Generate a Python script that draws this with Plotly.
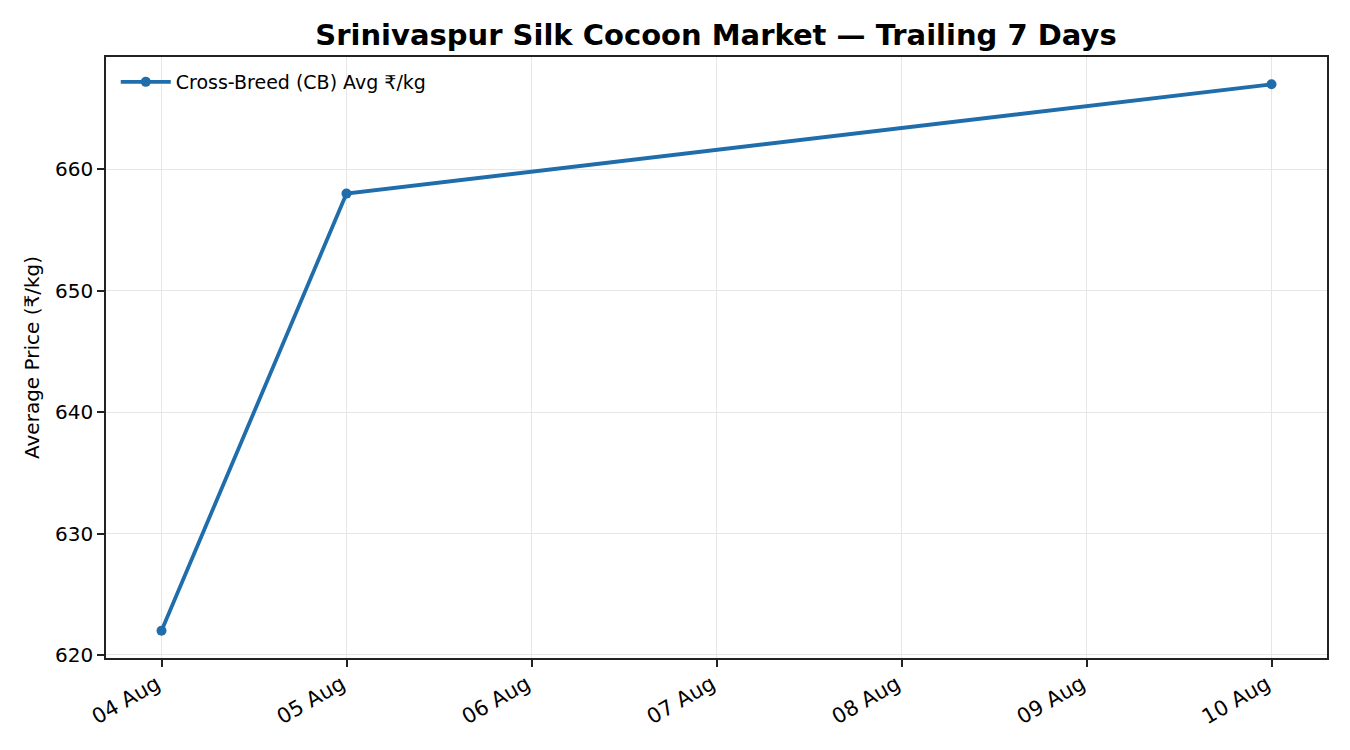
import plotly.graph_objects as go

# trailing 7 days, CB average price
dates = ["2025-08-04", "2025-08-05", "2025-08-10"]
avg_price = [622, 658, 667]
series_name = "Cross-Breed (CB) Avg ₹/kg"
y_ticks = [620, 630, 640, 650, 660]

line_color = "#1f6dab"
axis_color = "#222222"

# page has an 8px body margin, so the figure is sized a bit smaller
W, H = 1342, 742

fig = go.Figure()
fig.add_trace(go.Scatter(
    x=dates,
    y=avg_price,
    name=series_name,
    mode="lines+markers",
    line=dict(color=line_color, width=3.8),
    marker=dict(color=line_color, size=10),
))

fig.update_layout(
    width=W,
    height=H,
    paper_bgcolor="white",
    plot_bgcolor="white",
    font=dict(family="DejaVu Sans", size=20, color="black"),
    margin=dict(l=98, r=23, t=49, b=92),
    title=dict(
        text="<b>Srinivaspur Silk Cocoon Market — Trailing 7 Days</b>",
        x=708 / W, xanchor="center",
        y=1 - 27 / H, yanchor="middle",
        font=dict(size=29, color="black"),
    ),
    showlegend=True,
    legend=dict(
        x=0.008, y=0.99, xanchor="left", yanchor="top",
        bgcolor="rgba(0,0,0,0)", borderwidth=0,
        itemwidth=50,
        font=dict(size=19),
    ),
)

fig.update_xaxes(
    type="date",
    range=["2025-08-03 16:48", "2025-08-10 07:12"],
    dtick=86400000,
    tick0="2025-08-04",
    tickformat="%d %b",
    tickangle=-30,
    tickfont=dict(size=21),
    ticklabelstandoff=-3,
    ticklabelshift=-5,
    ticks="outside", ticklen=7, tickwidth=1.5, tickcolor=axis_color,
    showline=True, linecolor=axis_color, linewidth=1.5, mirror=True,
    showgrid=True, gridcolor="#e6e6e6", gridwidth=1,
    zeroline=False,
)
fig.update_yaxes(
    range=[619.75, 669.25],
    tickvals=y_ticks,
    ticks="outside", ticklen=7, tickwidth=1.5, tickcolor=axis_color,
    showline=True, linecolor=axis_color, linewidth=1.5, mirror=True,
    showgrid=True, gridcolor="#e6e6e6", gridwidth=1,
    zeroline=False,
    title=dict(text="Average Price (₹/kg)", standoff=10, font=dict(size=20)),
)

fig.write_html("out.html")
